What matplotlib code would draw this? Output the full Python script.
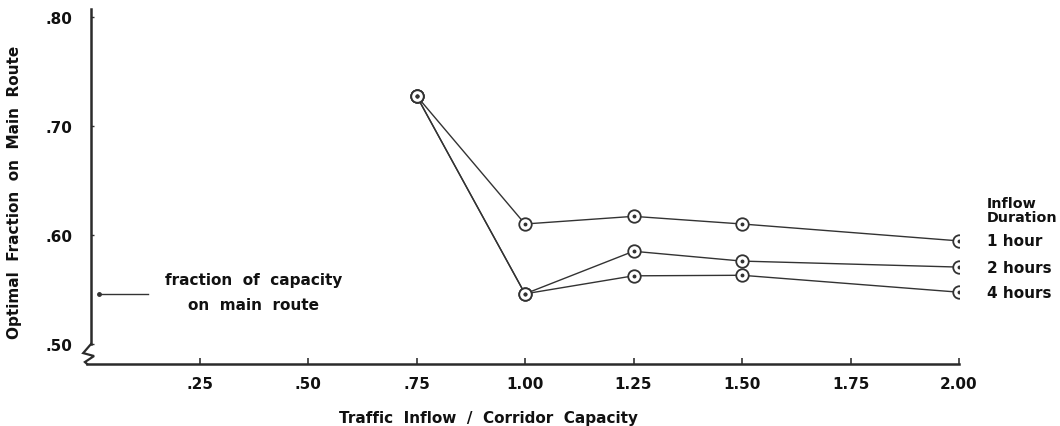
"""Optimal fraction of traffic on the main route vs. inflow/capacity ratio."""

import matplotlib
matplotlib.use("Agg")
import matplotlib.pyplot as plt

# data
ratio = [0.75, 1.00, 1.25, 1.50, 2.00]
frac_1h = [0.7275, 0.610, 0.617, 0.610, 0.5945]
frac_2h = [0.7275, 0.546, 0.585, 0.576, 0.5705]
frac_4h = [0.7275, 0.546, 0.5625, 0.563, 0.5475]
durations = ["1 hour", "2 hours", "4 hours"]

x_ticks = [0.25, 0.50, 0.75, 1.00, 1.25, 1.50, 1.75, 2.00]
x_tick_labels = [".25", ".50", ".75", "1.00", "1.25", "1.50", "1.75", "2.00"]
y_ticks = [0.50, 0.60, 0.70, 0.80]
y_tick_labels = [".50", ".60", ".70", ".80"]

capacity_fraction = 0.546

INK = "#333333"
TXT = "#111111"
FONT = "DejaVu Sans"
FS = 11

fig = plt.figure(figsize=(10.6, 4.27), dpi=100)
ax = fig.add_axes([91 / 1060, 62 / 427, 868 / 1060, 355 / 427])
ax.set_xlim(0, 2.0)
ax.set_ylim(0.4817, 0.807)

for vals in (frac_1h, frac_2h, frac_4h):
    ax.plot(ratio, vals, "-", color=INK, lw=1.0, zorder=2)
    ax.plot(ratio, vals, "o", ms=9, mfc="white", mec=INK, mew=1.3, zorder=3)
    ax.plot(ratio, vals, "o", ms=1.8, color=INK, zorder=4)

# legend written as plain labels next to the last points
x_last = ratio[-1]
for vals, lab in zip((frac_1h, frac_2h, frac_4h), durations):
    ax.annotate(lab, (x_last, vals[-1]), xytext=(20, 0), textcoords="offset points",
                va="center", ha="left", fontsize=FS, fontweight="bold",
                family=FONT, color=TXT, annotation_clip=False)
ax.annotate("Inflow\nDuration", (x_last, frac_1h[-1]), xytext=(20, 22),
            textcoords="offset points", va="center", ha="left", fontsize=10.3,
            fontweight="bold", family=FONT, color=TXT, linespacing=1.0,
            annotation_clip=False)

# reference line for fraction of capacity
ax.plot([0.018, 0.131], [capacity_fraction, capacity_fraction], "-", color=INK, lw=1.0)
ax.plot([0.018], [capacity_fraction], "o", ms=2.5, color=INK)
ax.text(0.375, capacity_fraction + 0.013, "fraction  of  capacity", ha="center",
        va="center", fontsize=FS, fontweight="bold", family=FONT, color=TXT)
ax.text(0.375, capacity_fraction - 0.010, "on  main  route", ha="center",
        va="center", fontsize=FS, fontweight="bold", family=FONT, color=TXT)

# axes styling
for side in ("top", "right"):
    ax.spines[side].set_visible(False)
ax.spines["left"].set_bounds(0.50, 0.807)
for side in ("left", "bottom"):
    ax.spines[side].set_linewidth(1.8)
    ax.spines[side].set_color("#2b2b2b")
ax.spines["bottom"].set_bounds(-0.009, 2.0)

# axis break zigzag
zx = [0.0, -0.018, 0.007, -0.014, -0.009]
zy = [0.50, 0.4917, 0.4890, 0.4835, 0.4817]
ax.plot(zx, zy, "-", color="#2b2b2b", lw=1.6, clip_on=False, solid_joinstyle="miter")

ax.set_xticks(x_ticks)
ax.set_xticklabels(x_tick_labels)
ax.set_yticks(y_ticks)
ax.set_yticklabels(y_tick_labels)
ax.tick_params(axis="x", direction="in", length=4, width=1.2, pad=8.5, color=INK)
ax.tick_params(axis="y", direction="in", length=2, width=1.0, pad=13.5, color=INK)
for lab in ax.get_xticklabels() + ax.get_yticklabels():
    lab.set_fontsize(FS)
    lab.set_fontweight("bold")
    lab.set_family(FONT)
    lab.set_color(TXT)

ax.set_xlabel("Traffic  Inflow  /  Corridor  Capacity", fontsize=FS,
              fontweight="bold", family=FONT, color=TXT)
ax.xaxis.label.set_va("center")
ax.xaxis.set_label_coords(397 / 868, -54 / 355)
ax.set_ylabel("Optimal  Fraction  on  Main  Route", fontsize=FS,
              fontweight="bold", family=FONT, color=TXT)
ax.yaxis.set_label_coords(-69 / 868, (365 - 192) / 355)

fig.savefig("out.png", dpi=100)
plt.close(fig)
